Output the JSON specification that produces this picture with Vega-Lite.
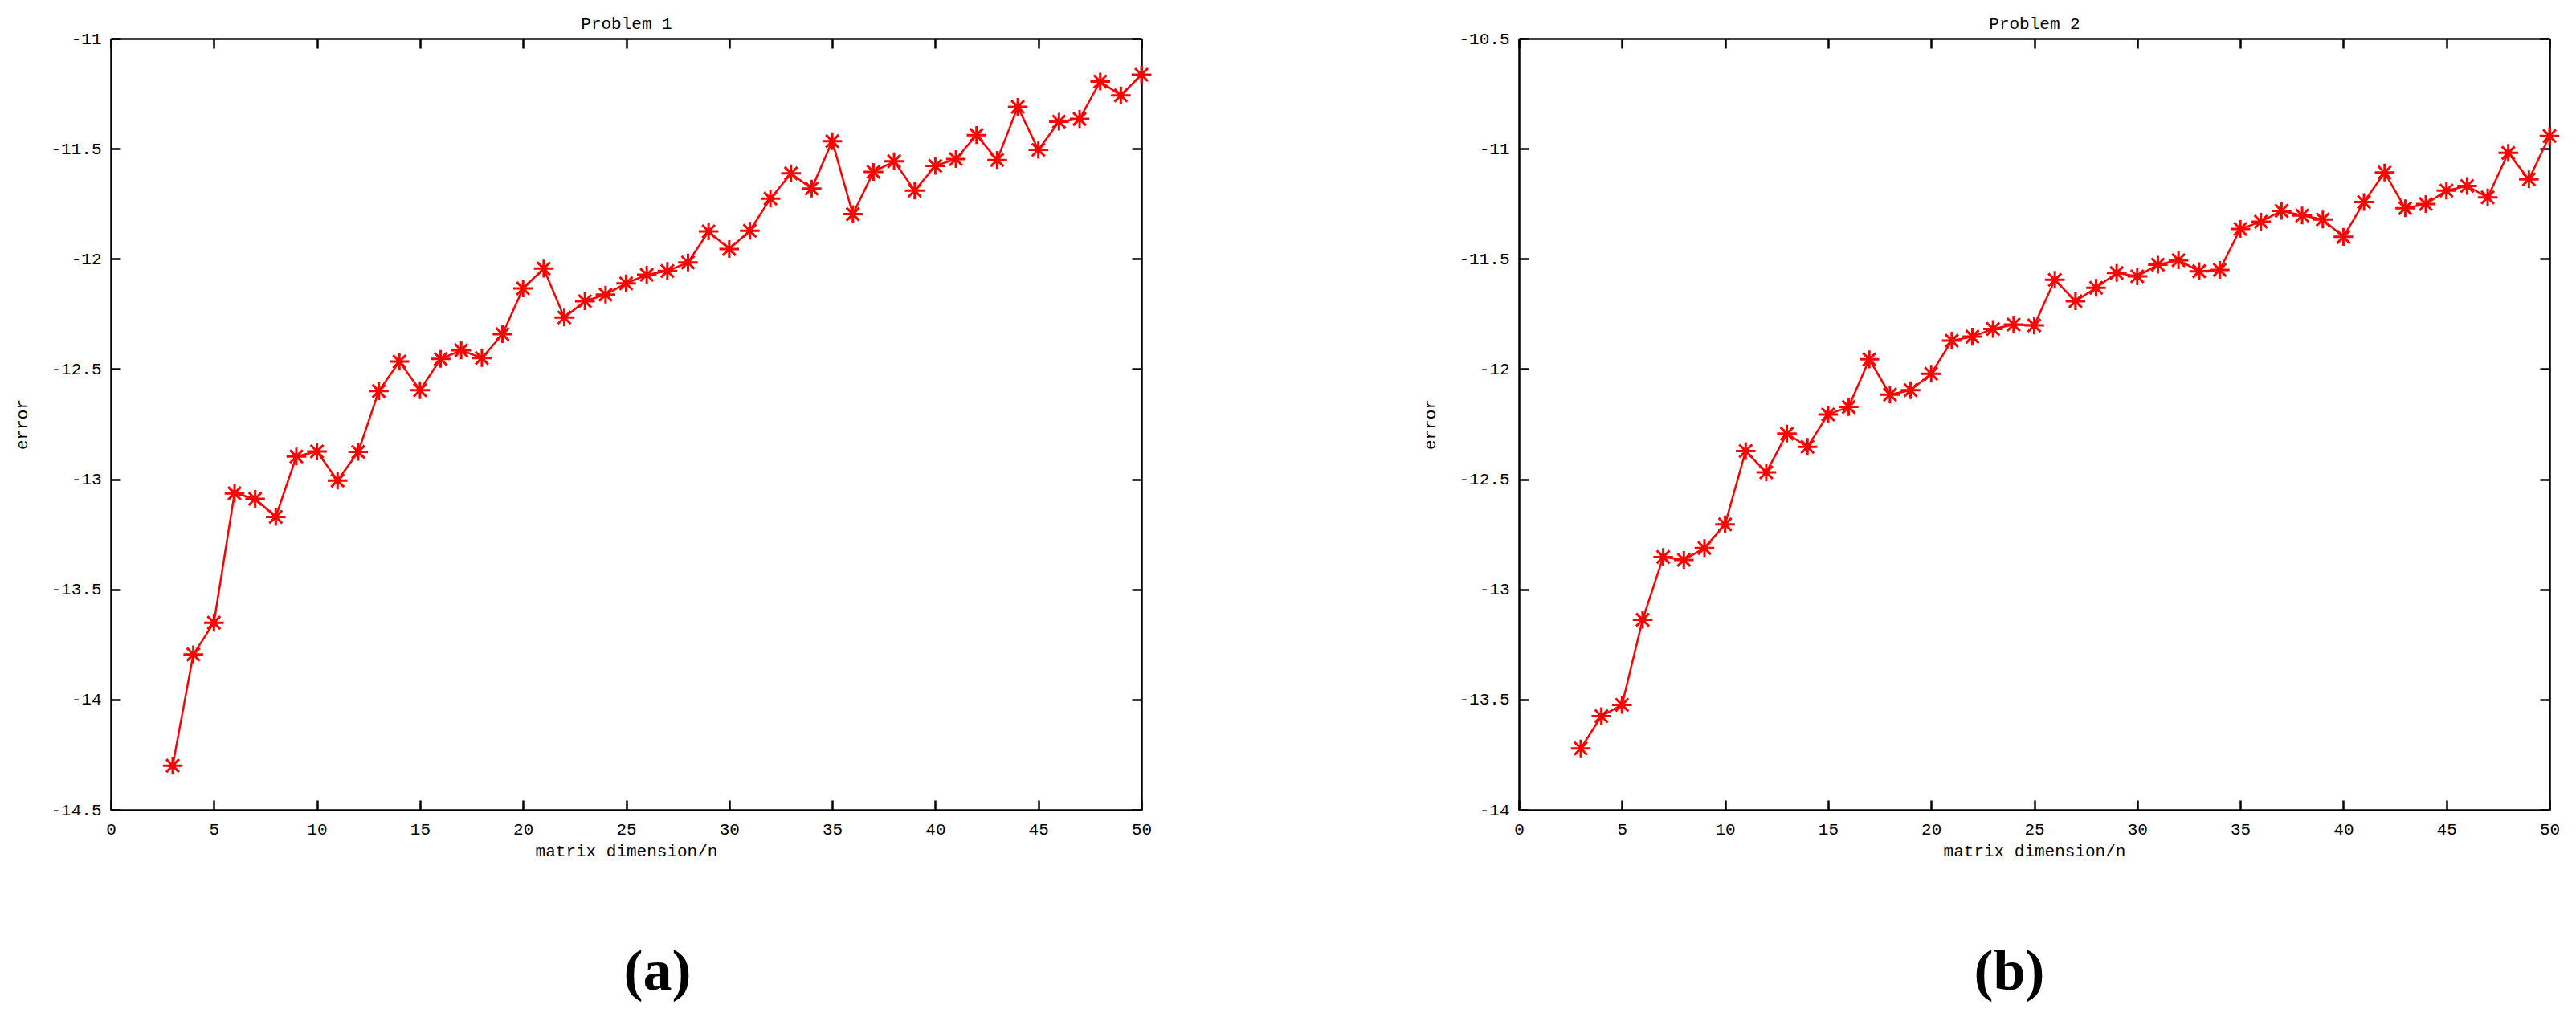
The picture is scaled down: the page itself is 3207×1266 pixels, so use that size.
{
  "$schema": "https://vega.github.io/schema/vega-lite/v6.json",
  "padding": {"left": 16, "top": 18, "right": 5, "bottom": 5},
  "background": "white",
  "bounds": "flush",
  "spacing": 470,
  "datasets": {
    "p1": [
      {"n":3,"err":-14.30},{"n":4,"err":-13.795},{"n":5,"err":-13.651},{"n":6,"err":-13.064},{"n":7,"err":-13.089},
      {"n":8,"err":-13.171},{"n":9,"err":-12.897},{"n":10,"err":-12.874},{"n":11,"err":-13.006},{"n":12,"err":-12.876},
      {"n":13,"err":-12.600},{"n":14,"err":-12.466},{"n":15,"err":-12.596},{"n":16,"err":-12.454},{"n":17,"err":-12.415},
      {"n":18,"err":-12.450},{"n":19,"err":-12.342},{"n":20,"err":-12.134},{"n":21,"err":-12.044},{"n":22,"err":-12.266},
      {"n":23,"err":-12.192},{"n":24,"err":-12.162},{"n":25,"err":-12.111},{"n":26,"err":-12.072},{"n":27,"err":-12.055},
      {"n":28,"err":-12.016},{"n":29,"err":-11.875},{"n":30,"err":-11.955},{"n":31,"err":-11.872},{"n":32,"err":-11.726},
      {"n":33,"err":-11.612},{"n":34,"err":-11.681},{"n":35,"err":-11.466},{"n":36,"err":-11.797},{"n":37,"err":-11.605},
      {"n":38,"err":-11.557},{"n":39,"err":-11.690},{"n":40,"err":-11.578},{"n":41,"err":-11.547},{"n":42,"err":-11.438},
      {"n":43,"err":-11.551},{"n":44,"err":-11.310},{"n":45,"err":-11.505},{"n":46,"err":-11.377},{"n":47,"err":-11.365},
      {"n":48,"err":-11.195},{"n":49,"err":-11.258},{"n":50,"err":-11.164}
    ],
    "p2": [
      {"n":3,"err":-13.722},{"n":4,"err":-13.575},{"n":5,"err":-13.524},{"n":6,"err":-13.138},{"n":7,"err":-12.853},
      {"n":8,"err":-12.866},{"n":9,"err":-12.812},{"n":10,"err":-12.705},{"n":11,"err":-12.372},{"n":12,"err":-12.469},
      {"n":13,"err":-12.293},{"n":14,"err":-12.353},{"n":15,"err":-12.206},{"n":16,"err":-12.172},{"n":17,"err":-11.956},
      {"n":18,"err":-12.116},{"n":19,"err":-12.096},{"n":20,"err":-12.021},{"n":21,"err":-11.871},{"n":22,"err":-11.853},
      {"n":23,"err":-11.818},{"n":24,"err":-11.798},{"n":25,"err":-11.802},{"n":26,"err":-11.595},{"n":27,"err":-11.692},
      {"n":28,"err":-11.631},{"n":29,"err":-11.564},{"n":30,"err":-11.579},{"n":31,"err":-11.526},{"n":32,"err":-11.506},
      {"n":33,"err":-11.556},{"n":34,"err":-11.550},{"n":35,"err":-11.364},{"n":36,"err":-11.331},{"n":37,"err":-11.282},
      {"n":38,"err":-11.303},{"n":39,"err":-11.321},{"n":40,"err":-11.400},{"n":41,"err":-11.242},{"n":42,"err":-11.108},
      {"n":43,"err":-11.270},{"n":44,"err":-11.251},{"n":45,"err":-11.190},{"n":46,"err":-11.169},{"n":47,"err":-11.221},
      {"n":48,"err":-11.019},{"n":49,"err":-11.139},{"n":50,"err":-10.942}
    ]
  },
  "hconcat": [
    {
      "width": 1283,
      "height": 960,
      "data": {"name": "p1"},
      "title": {"text": "(a)", "orient": "bottom", "font": "Liberation Serif", "fontSize": 72, "fontWeight": "bold", "color": "#000000", "offset": 106, "dx": 39},
      "layer": [
        {
          "mark": {"type": "line", "color": "#ff0000", "strokeWidth": 2.5},
          "encoding": {
            "x": {"field": "n", "type": "quantitative", "scale": {"domain": [0, 50], "nice": false, "zero": false},
                  "axis": {"orient": "bottom", "values": [0,5,10,15,20,25,30,35,40,45,50], "title": "matrix dimension/n", "titleY": 57, "titleBaseline": "alphabetic", "labelPadding": 25}},
            "y": {"field": "err", "type": "quantitative", "scale": {"domain": [-14.5, -11], "nice": false, "zero": false},
                  "axis": {"orient": "left", "values": [-14.5,-14,-13.5,-13,-12.5,-12,-11.5,-11], "labelExpr": "'' + datum.value", "title": "error", "titleX": -105, "titleY": 480, "titleBaseline": "alphabetic", "titleAngle": -90, "labelPadding": 24}}
          }
        },
        {
          "mark": {"type": "point", "shape": "M-1,0L1,0M0,-0.9L0,0.9M-0.65,-0.65L0.65,0.65M-0.65,0.65L0.65,-0.65", "filled": false, "stroke": "#ff0000", "strokeWidth": 3, "size": 600, "opacity": 1},
          "encoding": {
            "x": {"field": "n", "type": "quantitative", "scale": {"domain": [0, 50], "nice": false, "zero": false},
                  "axis": {"orient": "top", "values": [0,5,10,15,20,25,30,35,40,45,50], "labels": false, "title": "Problem 1", "titleY": -13, "titleBaseline": "alphabetic"}},
            "y": {"field": "err", "type": "quantitative", "scale": {"domain": [-14.5, -11], "nice": false, "zero": false},
                  "axis": {"orient": "right", "values": [-14.5,-14,-13.5,-13,-12.5,-12,-11.5,-11], "labels": false, "title": null}}
          }
        }
      ],
      "resolve": {"axis": {"x": "independent", "y": "independent"}}
    },
    {
      "width": 1283,
      "height": 960,
      "data": {"name": "p2"},
      "title": {"text": "(b)", "orient": "bottom", "font": "Liberation Serif", "fontSize": 72, "fontWeight": "bold", "color": "#000000", "offset": 106, "dx": -31},
      "layer": [
        {
          "mark": {"type": "line", "color": "#ff0000", "strokeWidth": 2.5},
          "encoding": {
            "x": {"field": "n", "type": "quantitative", "scale": {"domain": [0, 50], "nice": false, "zero": false},
                  "axis": {"orient": "bottom", "values": [0,5,10,15,20,25,30,35,40,45,50], "title": "matrix dimension/n", "titleY": 57, "titleBaseline": "alphabetic", "labelPadding": 25}},
            "y": {"field": "err", "type": "quantitative", "scale": {"domain": [-14, -10.5], "nice": false, "zero": false},
                  "axis": {"orient": "left", "values": [-14,-13.5,-13,-12.5,-12,-11.5,-11,-10.5], "labelExpr": "'' + datum.value", "title": "error", "titleX": -105, "titleY": 480, "titleBaseline": "alphabetic", "titleAngle": -90, "labelPadding": 24}}
          }
        },
        {
          "mark": {"type": "point", "shape": "M-1,0L1,0M0,-0.9L0,0.9M-0.65,-0.65L0.65,0.65M-0.65,0.65L0.65,-0.65", "filled": false, "stroke": "#ff0000", "strokeWidth": 3, "size": 600, "opacity": 1},
          "encoding": {
            "x": {"field": "n", "type": "quantitative", "scale": {"domain": [0, 50], "nice": false, "zero": false},
                  "axis": {"orient": "top", "values": [0,5,10,15,20,25,30,35,40,45,50], "labels": false, "title": "Problem 2", "titleY": -13, "titleBaseline": "alphabetic"}},
            "y": {"field": "err", "type": "quantitative", "scale": {"domain": [-14, -10.5], "nice": false, "zero": false},
                  "axis": {"orient": "right", "values": [-14,-13.5,-13,-12.5,-12,-11.5,-11,-10.5], "labels": false, "title": null}}
          }
        }
      ],
      "resolve": {"axis": {"x": "independent", "y": "independent"}}
    }
  ],
  "config": {
    "view": {"stroke": null},
    "axis": {
      "grid": false,
      "domain": true,
      "domainColor": "#000000",
      "domainWidth": 2.5,
      "ticks": true,
      "tickColor": "#000000",
      "tickWidth": 2.5,
      "tickSize": -12,
      "labelFont": "Liberation Mono",
      "labelFontSize": 21,
      "labelColor": "#000000",
      "labelFlush": false,
      "labelOverlap": false,
      "titleFont": "Liberation Mono",
      "titleFontSize": 21,
      "titleFontWeight": "normal",
      "titleColor": "#000000"
    }
  }
}
